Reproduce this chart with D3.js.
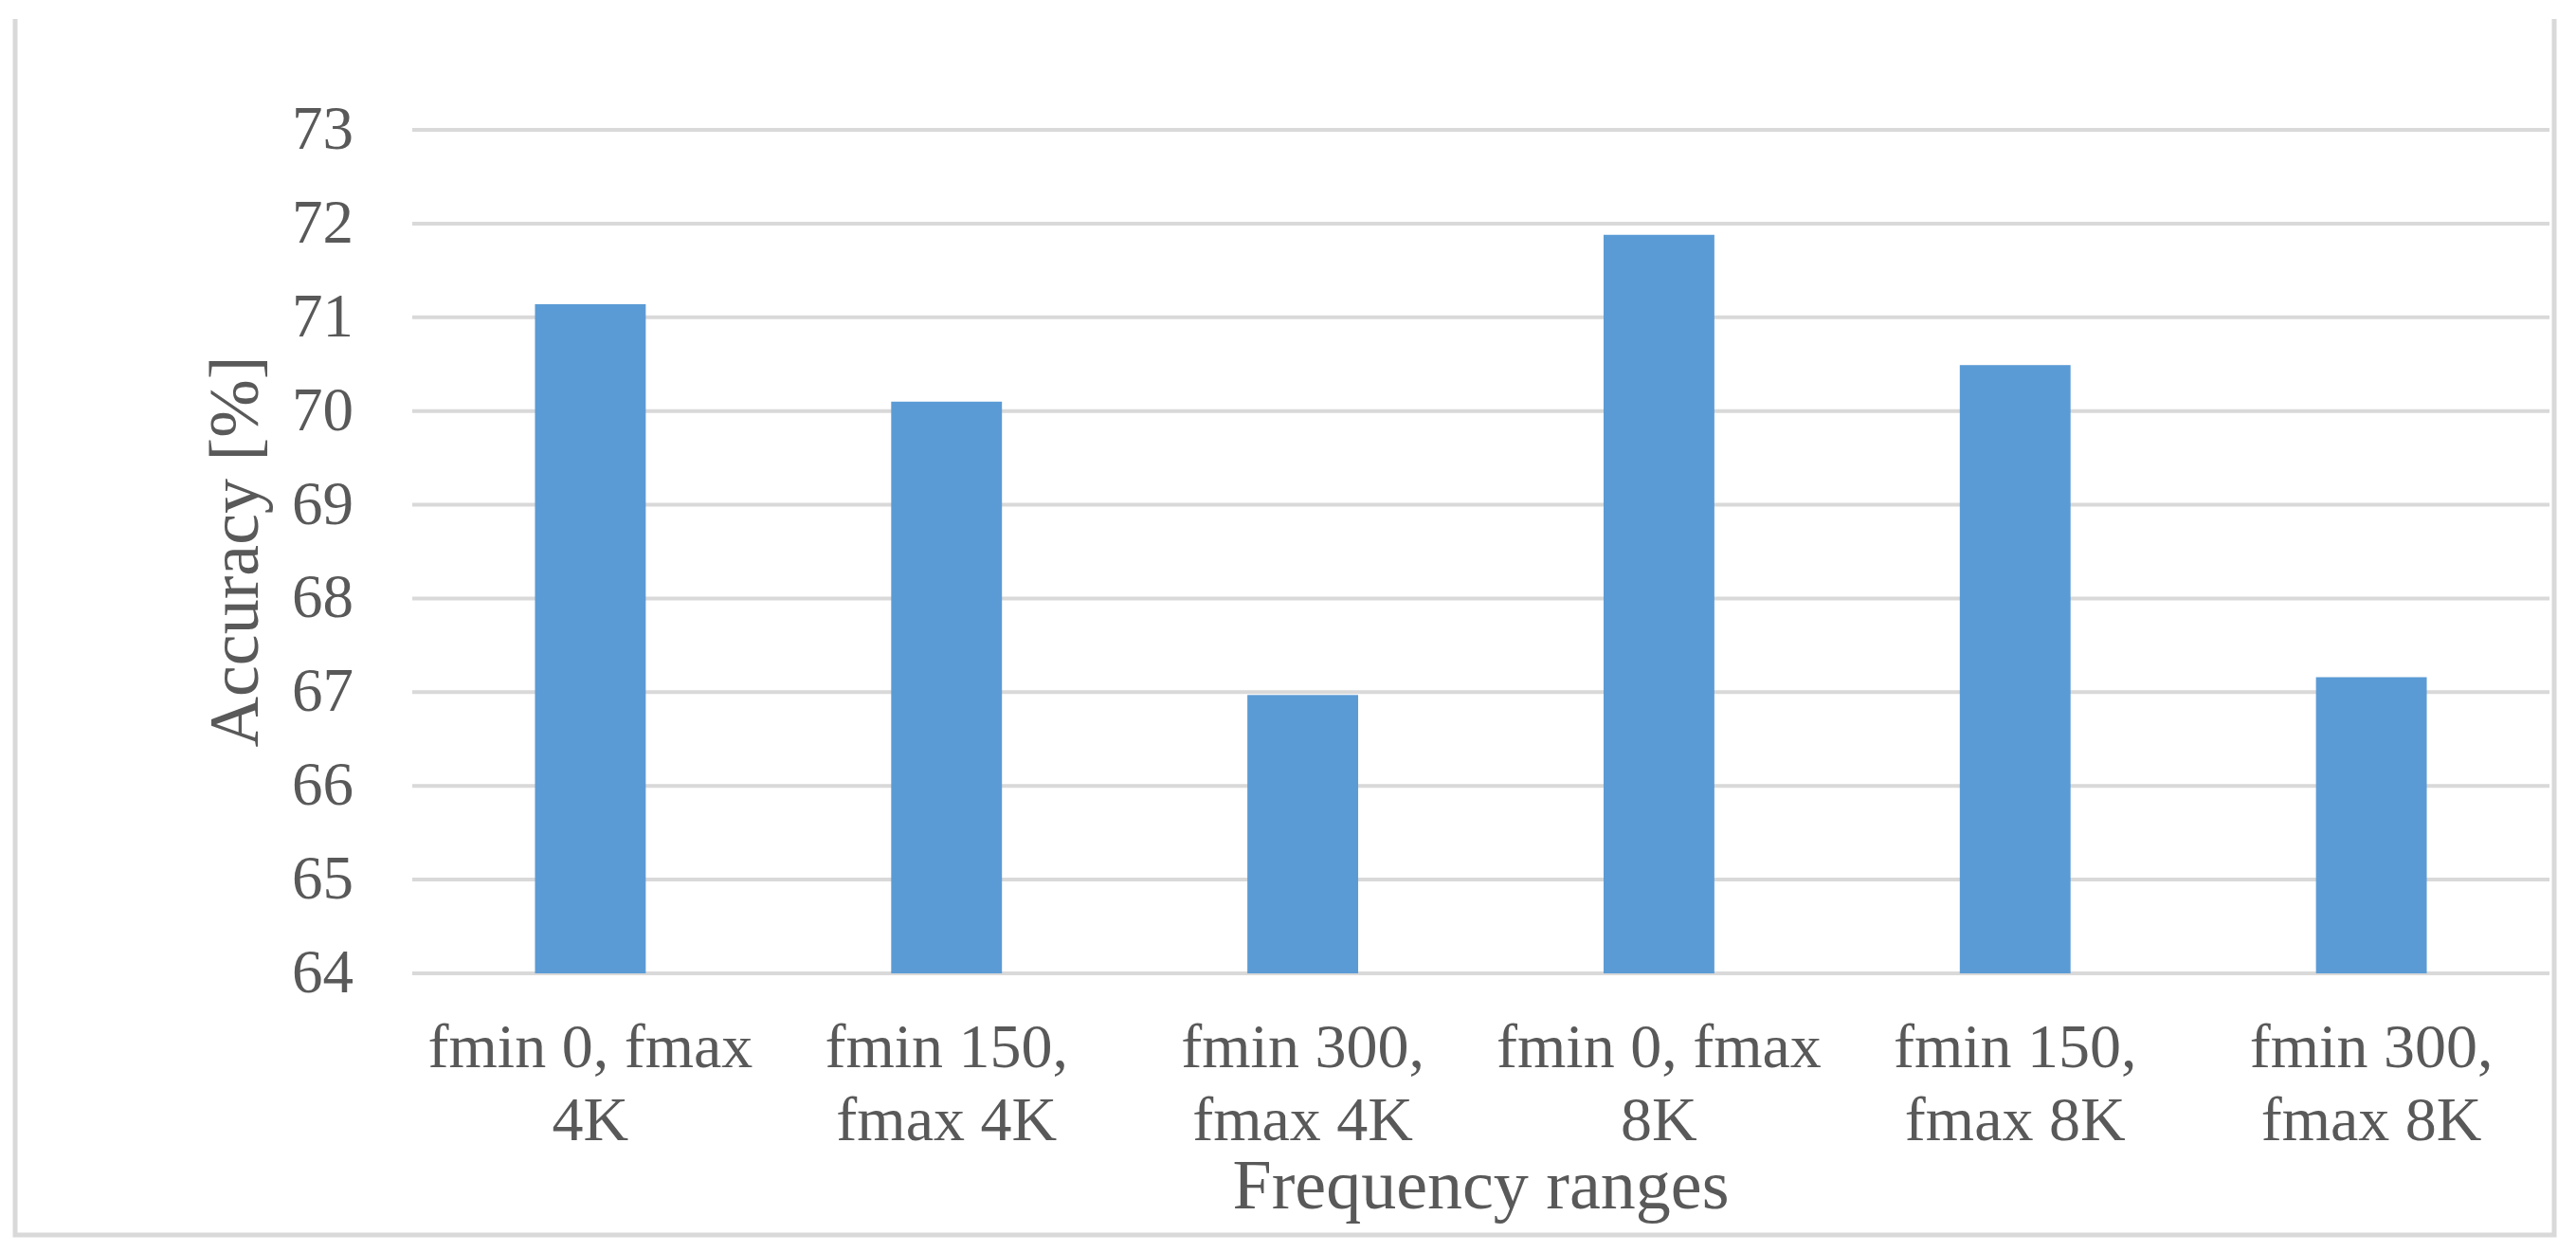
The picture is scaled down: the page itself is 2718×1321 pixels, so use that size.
<!DOCTYPE html>
<html>
<head>
<meta charset="utf-8">
<script src="https://cdn.jsdelivr.net/npm/d3@7/dist/d3.min.js"></script>
<style>
  html, body { margin: 0; padding: 0; background: #ffffff; }
  svg { display: block; }
  text { font-family: "Liberation Serif", "Times New Roman", serif; fill: #595959; }
</style>
</head>
<body>
<svg id="chart" width="2718" height="1321"></svg>
<script>
const categories = [
  "fmin 0, fmax 4K",
  "fmin 150, fmax 4K",
  "fmin 300, fmax 4K",
  "fmin 0, fmax 8K",
  "fmin 150, fmax 8K",
  "fmin 300, fmax 8K"
];
const accuracy = [71.14, 70.1, 66.97, 71.88, 70.49, 67.16];
const yTicks = [64, 65, 66, 67, 68, 69, 70, 71, 72, 73];
const xTitle = "Frequency ranges";
const yTitle = "Accuracy [%]";

const svg = d3.select("#chart");
const W = 2718, H = 1321;
const plot = { left: 435, right: 2690, top: 137, bottom: 1027 };

svg.append("rect").attr("width", W).attr("height", H).attr("fill", "#ffffff");

// chart border (top edge outside the picture)
svg.append("path")
  .attr("d", `M16,20 V1303 H2695 V20`)
  .attr("fill", "none")
  .attr("stroke", "#d9d9d9")
  .attr("stroke-width", 5);

const x = d3.scaleBand()
  .domain(categories)
  .range([plot.left, plot.right])
  .paddingInner(0.689)
  .paddingOuter(0.3445);

const y = d3.scaleLinear()
  .domain([64, 73])
  .range([plot.bottom, plot.top]);

// gridlines
svg.append("g")
  .selectAll("line")
  .data(yTicks)
  .join("line")
  .attr("x1", plot.left)
  .attr("x2", plot.right)
  .attr("y1", d => y(d))
  .attr("y2", d => y(d))
  .attr("stroke", "#d9d9d9")
  .attr("stroke-width", 4);

// y axis labels
const yAxis = d3.axisLeft(y).tickValues(yTicks).tickSize(0).tickPadding(0).tickFormat(d3.format("d"));
const yG = svg.append("g").attr("transform", `translate(373,0)`).call(yAxis);
yG.select(".domain").remove();
yG.selectAll("text")
  .attr("font-size", 65)
  .attr("font-family", "Liberation Serif, Times New Roman, serif")
  .attr("fill", "#595959")
  .attr("dy", "0.3em")
  .attr("x", 0);

// bars
svg.append("g")
  .selectAll("rect")
  .data(accuracy)
  .join("rect")
  .attr("x", (d, i) => x(categories[i]))
  .attr("width", x.bandwidth())
  .attr("y", d => y(d))
  .attr("height", d => y(64) - y(d))
  .attr("fill", "#5b9bd5");

// x axis labels (wrapped)
const xAxis = d3.axisBottom(x).tickSize(0).tickPadding(0);
const xG = svg.append("g").attr("transform", `translate(0,0)`).call(xAxis);
xG.select(".domain").remove();
xG.selectAll("text").remove();
const maxW = x.step() - 10;
xG.selectAll(".tick").each(function(d) {
  const g = d3.select(this);
  const t = g.append("text")
    .attr("font-size", 66)
    .attr("font-family", "Liberation Serif, Times New Roman, serif")
    .attr("fill", "#595959")
    .attr("text-anchor", "middle");
  const words = d.split(" ");
  let lines = [];
  let cur = [];
  const probe = t.append("tspan");
  words.forEach(w => {
    const test = cur.concat([w]).join(" ");
    probe.text(test);
    if (probe.node().getComputedTextLength() > maxW && cur.length) {
      lines.push(cur.join(" "));
      cur = [w];
    } else {
      cur.push(w);
    }
  });
  lines.push(cur.join(" "));
  probe.remove();
  lines.forEach((ln, i) => {
    t.append("tspan").attr("x", 0).attr("y", 1126 + i * 77).text(ln);
  });
});

// axis titles
svg.append("text")
  .attr("x", (plot.left + plot.right) / 2)
  .attr("y", 1275)
  .attr("text-anchor", "middle")
  .attr("font-size", 74)
  .text(xTitle);

svg.append("text")
  .attr("transform", `translate(272,${(plot.top + plot.bottom) / 2}) rotate(-90)`)
  .attr("text-anchor", "middle")
  .attr("font-size", 74)
  .text(yTitle);
</script>
</body>
</html>
